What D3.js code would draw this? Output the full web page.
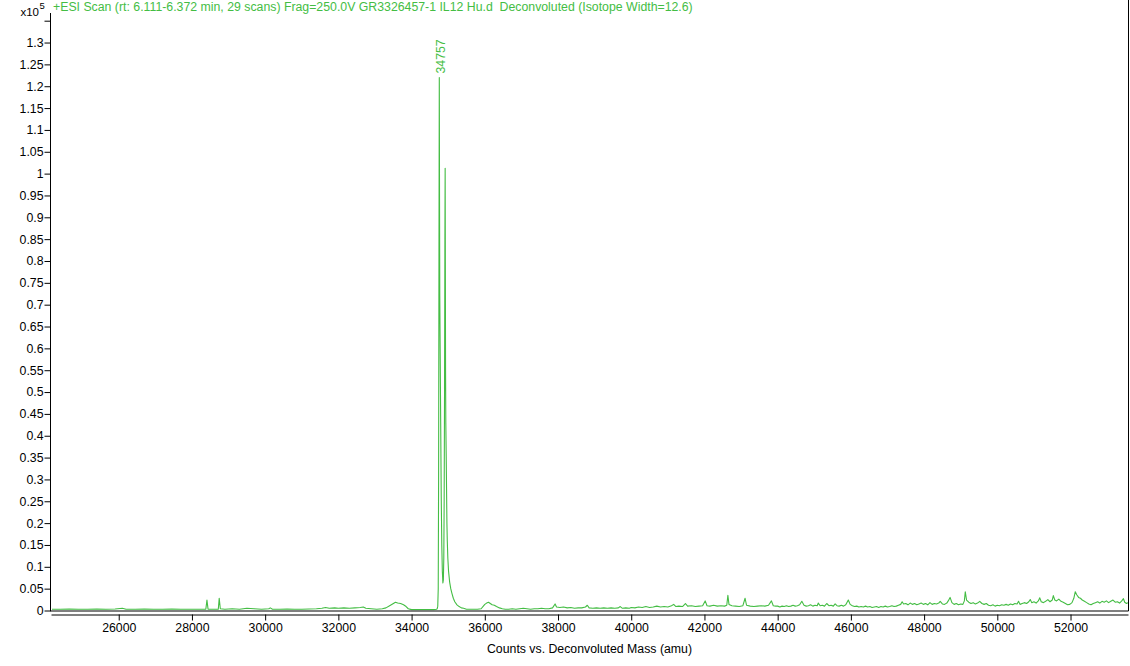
<!DOCTYPE html>
<html>
<head>
<meta charset="utf-8">
<title>Deconvoluted mass spectrum</title>
<script src="https://cdn.jsdelivr.net/npm/d3@7/dist/d3.min.js"></script>
<style>
  html, body { margin: 0; padding: 0; background: #fff; }
  svg { display: block; font-family: "Liberation Sans", Arial, sans-serif; }
</style>
</head>
<body>
<div id="chart"></div>
<script>
// Spectrum: [mass (amu), counts x10^5]
const lowMassRegion = [
  [24150,.003],[24400,.003],[24650,.0035],[24900,.003],[25150,.003],[25400,.0035],
  [25650,.003],[25900,.0035],[26100,.005],[26200,.003],[26450,.003],[26700,.0035],
  [26950,.003],[27200,.003],[27450,.0035],[27700,.003],[27950,.003],[28200,.003],
  [28380,.003],[28410,.024],[28440,.003],[28600,.003],[28720,.003],[28745,.028],
  [28775,.004],[28900,.003],[29100,.004],[29300,.003],[29500,.005],[29700,.004],
  [29900,.003],[30100,.004],[30140,.006],[30200,.003],[30400,.003],[30600,.0035],
  [30800,.003],[31000,.003],[31200,.0035],[31400,.004],[31550,.005],[31650,.007],
  [31750,.005],[31900,.006],[32000,.005],[32150,.006],[32300,.005],[32450,.006],
  [32600,.007],[32680,.008],[32750,.005],[32900,.004],[33050,.003],[33200,.004],
  [33300,.006],[33400,.011],[33480,.015],[33560,.019],[33620,.017],[33700,.016],
  [33780,.013],[33850,.009],[33910,.004],[34000,.002],[34200,.002],[34400,.002],
  [34600,.002],[34680,.003]
];

// main protein peak (34757) and its +162 glycoform
const peakCluster = [
  [34700,.004],[34715,.01],[34728,.05],[34738,.3],[34746,.72],[34752,1.0],
  [34757,1.22],[34763,.95],[34770,.72],[34782,.58],[34795,.43],[34810,.26],
  [34825,.15],[34840,.09],[34855,.063],[34868,.07],[34880,.12],[34890,.25],
  [34900,.5],[34910,.85],[34917,1.012],[34922,.8],[34928,.55],[34935,.43],
  [34945,.36],[34955,.28],[34965,.2],[34975,.16],[34990,.12],[35010,.09],
  [35040,.065],[35070,.05],[35100,.04],[35140,.028],[35180,.02],[35240,.013],
  [35300,.009],[35360,.006],[35420,.005]
];

const midMassRegion = [
  [35500,.003],[35650,.003],[35800,.003],[35900,.004],[35960,.010],[36000,.014],
  [36050,.017],[36100,.019],[36150,.016],[36200,.013],[36260,.012],[36320,.009],
  [36400,.006],[36480,.004],[36560,.003],[36650,.003],[36750,.004],[36850,.003],
  [36950,.004],[37050,.005],[37150,.004],[37250,.003],[37350,.004],[37450,.004],
  [37550,.005],[37650,.004],[37750,.004],[37850,.006],[37920,.015],[37960,.008],
  [38050,.007],[38150,.008],[38250,.006],[38350,.007],[38450,.005],[38550,.006],
  [38650,.006],[38750,.008],[38800,.012],[38850,.006],[38950,.005],[39050,.006],
  [39150,.005],[39250,.006],[39350,.005],[39450,.006],[39550,.005],[39650,.006],
  [39700,.009],[39760,.005],[39850,.006],[39950,.005],
  [40000,.007],[40100,.006],[40200,.008],[40300,.007],[40400,.009],[40500,.007],
  [40600,.008],[40700,.010],[40800,.008],[40900,.009],[41000,.008],[41100,.011],
  [41160,.014],[41220,.009],[41300,.010],[41400,.009],[41480,.016],[41540,.010],
  [41650,.011],[41750,.009],[41850,.010],[41950,.011],[42020,.022],[42070,.011],
  [42150,.010],[42250,.012],[42350,.010],[42450,.011],[42550,.010],[42610,.012],
  [42640,.035],[42670,.014],[42750,.011],[42850,.010],[42950,.009],[43050,.011],
  [43110,.028],[43150,.012],[43250,.010],[43350,.009],[43450,.010],[43550,.011],
  [43650,.010],[43750,.012],[43830,.022],[43880,.011],[43950,.010]
];

const highMassRegion = [
  [44000,.010],[44060,.008],[44120,.010],[44180,.009],[44240,.011],[44300,.009],
  [44360,.010],[44420,.012],[44480,.010],[44540,.011],[44600,.013],[44660,.021],
  [44720,.012],[44780,.010],[44840,.011],[44900,.013],[44960,.010],[45020,.012],
  [45080,.011],[45110,.017],[45160,.011],[45220,.012],[45280,.010],[45340,.016],
  [45400,.011],[45460,.012],[45520,.010],[45570,.015],[45620,.011],[45680,.010],
  [45740,.012],[45800,.010],[45860,.013],[45930,.024],[45980,.014],[46040,.011],
  [46100,.009],[46160,.010],[46220,.008],[46280,.009],[46340,.008],[46400,.010],
  [46460,.008],[46520,.009],[46580,.007],[46640,.008],[46700,.009],[46760,.007],
  [46820,.009],[46880,.008],[46940,.010],[47000,.008],[47060,.009],[47120,.011],
  [47180,.009],[47240,.010],[47300,.012],[47360,.014],[47400,.020],[47440,.015],
  [47500,.016],[47560,.013],[47620,.017],[47680,.014],[47740,.016],[47800,.013],
  [47860,.015],[47920,.017],[47980,.014],[48040,.016],[48100,.013],[48160,.018],
  [48220,.014],[48280,.016],[48340,.015],[48400,.017],[48440,.021],[48500,.015],
  [48560,.014],[48620,.017],[48660,.022],[48710,.030],[48760,.018],[48820,.014],
  [48880,.016],[48940,.013],[49000,.015],[49060,.014],[49100,.022],[49125,.043],
  [49160,.024],[49220,.019],[49280,.016],[49340,.018],[49400,.015],[49460,.017],
  [49520,.021],[49580,.016],[49640,.014],[49700,.016],[49760,.012],[49820,.011],
  [49880,.013],[49940,.010],[50000,.012],[50060,.011],[50120,.013],[50180,.012],
  [50240,.014],[50300,.012],[50360,.015],[50420,.013],[50480,.016],[50540,.015],
  [50580,.021],[50620,.014],[50680,.016],[50740,.018],[50800,.016],[50860,.020],
  [50900,.025],[50940,.018],[51000,.020],[51060,.017],[51120,.022],[51160,.029],
  [51200,.020],[51260,.018],[51320,.021],[51380,.025],[51440,.020],[51500,.024],
  [51530,.034],[51570,.024],[51620,.022],[51680,.026],[51740,.021],[51800,.019],
  [51860,.016],[51920,.013],[51980,.014],[52040,.018],[52090,.028],[52130,.043],
  [52170,.036],[52220,.030],[52270,.028],[52320,.024],[52380,.021],[52440,.018],
  [52500,.015],[52560,.013],[52620,.016],[52680,.018],[52740,.020],[52800,.017],
  [52860,.021],[52920,.019],[52980,.022],[53040,.018],[53100,.021],[53160,.024],
  [53220,.019],[53280,.020],[53340,.017],[53400,.022],[53445,.027],[53480,.019],
  [53530,.016],[53570,.018]
];

const xTickValues = [26000,28000,30000,32000,34000,36000,38000,40000,42000,44000,46000,48000,50000,52000];
const yTickValues = [0,.05,.1,.15,.2,.25,.3,.35,.4,.45,.5,.55,.6,.65,.7,.75,.8,.85,.9,.95,1,1.05,1.1,1.15,1.2,1.25,1.3,1.35];
const yTickLabels = ['0','0.05','0.1','0.15','0.2','0.25','0.3','0.35','0.4','0.45','0.5','0.55','0.6','0.65',
                     '0.7','0.75','0.8','0.85','0.9','0.95','1','1.05','1.1','1.15','1.2','1.25','1.3',''];
const peakLabels = [{ mass: 34757, counts: 1.22, text: '34757' }];

const titleText = '+ESI Scan (rt: 6.111-6.372 min, 29 scans) Frag=250.0V GR3326457-1 IL12 Hu.d  Deconvoluted (Isotope Width=12.6)';
const xAxisTitle = 'Counts vs. Deconvoluted Mass (amu)';

const Spectrum = (() => {
  const W = 1130, H = 666;
  const GREEN = '#44bd44';
  const FONT = 12.3;
  const plot = { left: 51, right: 1128, top: 0, bottom: 610.5 };

  function render(containerId) {
    const svg = d3.select('#' + containerId).append('svg')
      .attr('width', W).attr('height', H);

    const x = d3.scaleLinear().domain([24150, 53570]).range([plot.left, plot.right]);
    const y = d3.scaleLinear().domain([0, 1.35]).range([610.5, 20.7]);

    const spectrum = lowMassRegion.concat(peakCluster, midMassRegion, highMassRegion);

    svg.append('clipPath').attr('id', 'plot-clip')
      .append('rect')
      .attr('x', plot.left + 1).attr('y', plot.top)
      .attr('width', plot.right - plot.left - 1).attr('height', plot.bottom - plot.top);

    // trace
    svg.append('path')
      .datum(spectrum)
      .attr('clip-path', 'url(#plot-clip)')
      .attr('fill', 'none')
      .attr('stroke', GREEN)
      .attr('stroke-width', 1.1)
      .attr('stroke-linejoin', 'round')
      .attr('d', d3.line().x(d => x(d[0])).y(d => y(d[1])));

    // frame: bottom and right edges
    svg.append('path')
      .attr('fill', 'none').attr('stroke', '#000').attr('stroke-width', 1)
      .attr('d', `M${plot.left},${plot.bottom + 0.5}H${plot.right + 0.5}V${plot.top}`);

    // y axis (ticks point left), own domain line reaching above the top tick
    const yAxis = svg.append('g')
      .attr('transform', `translate(${plot.left - 0.5},0)`)
      .call(d3.axisLeft(y).tickValues(yTickValues)
        .tickFormat((d, i) => yTickLabels[i])
        .tickSize(6).tickSizeOuter(0).tickPadding(1));
    yAxis.select('.domain').remove();
    yAxis.selectAll('text').attr('font-size', FONT).attr('font-family', null).attr('fill', '#000');
    svg.append('line')
      .attr('x1', plot.left - 0.5).attr('x2', plot.left - 0.5)
      .attr('y1', 13).attr('y2', plot.bottom + 1)
      .attr('stroke', '#000');

    // x axis sits a few px under the frame, ticks point down
    const xAxis = svg.append('g')
      .attr('transform', `translate(0,${plot.bottom + 4})`)
      .call(d3.axisBottom(x).tickValues(xTickValues)
        .tickFormat(d3.format('d'))
        .tickSize(6).tickSizeOuter(0).tickPadding(3));
    xAxis.selectAll('text').attr('font-size', FONT).attr('font-family', null).attr('fill', '#000');

    // exponent label above the y axis
    svg.append('text')
      .attr('x', 39).attr('y', 16)
      .attr('text-anchor', 'end').attr('font-size', 11.5)
      .text('x10');
    svg.append('text')
      .attr('x', 39.5).attr('y', 9)
      .attr('font-size', 9.5)
      .text('5');

    // title inside the plot area
    svg.append('text')
      .attr('x', 53).attr('y', 11)
      .attr('font-size', FONT).attr('fill', GREEN)
      .style('white-space', 'pre')
      .text(titleText);

    // peak labels, rotated above the apex
    svg.selectAll('.peak-label')
      .data(peakLabels)
      .join('text')
      .attr('class', 'peak-label')
      .attr('transform', d => `translate(${x(d.mass) + 6},${y(d.counts) - 4}) rotate(-90)`)
      .attr('font-size', FONT).attr('fill', GREEN)
      .text(d => d.text);

    svg.append('text')
      .attr('x', (plot.left + plot.right) / 2).attr('y', 653)
      .attr('text-anchor', 'middle').attr('font-size', FONT)
      .text(xAxisTitle);
  }

  return { render };
})();

Spectrum.render('chart');
</script>
</body>
</html>
